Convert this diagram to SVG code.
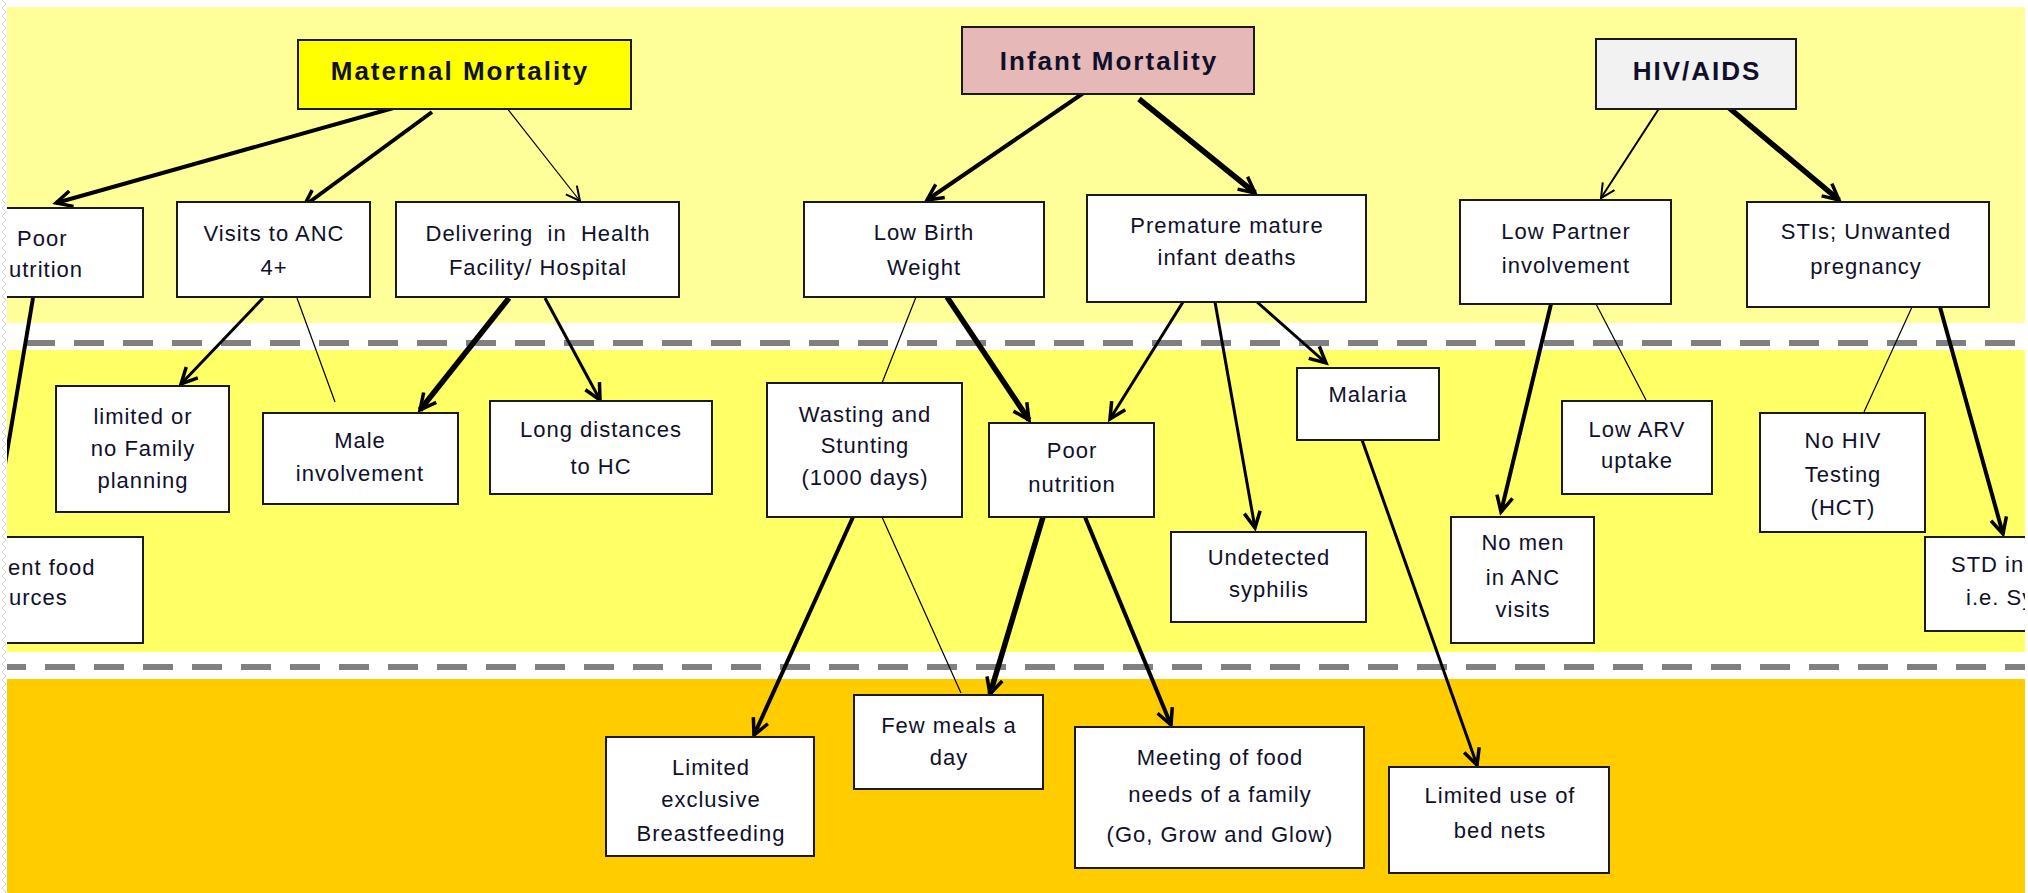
<svg xmlns="http://www.w3.org/2000/svg" width="2028" height="893" viewBox="0 0 2028 893">
  <defs>
    <style>
      .box{fill:#ffffff;stroke:#1a1a1a;stroke-width:2}
      .t{font-family:"Liberation Sans",Arial,sans-serif;font-size:22px;letter-spacing:1px;fill:#10102a;text-anchor:middle}
      .ts{text-anchor:start}
      .h{font-family:"Liberation Sans",Arial,sans-serif;font-size:26px;font-weight:bold;letter-spacing:2px;fill:#10102a;text-anchor:middle}
      .c{fill:none;stroke:#000000;stroke-linecap:butt}
      .w1{stroke-width:1.2}
      .w2{stroke-width:2}
      .w3{stroke-width:3}
      .w4{stroke-width:4}
      .w5{stroke-width:5.5}
      .sep{fill:none;stroke:#808080;stroke-width:6;stroke-dasharray:30 19}
    </style>
    <pattern id="edge" width="8" height="8" patternUnits="userSpaceOnUse">
      <path d="M2,0 L6,4 L2,8" fill="none" stroke="#cfcfcf" stroke-width="1"/>
    </pattern>
    <clipPath id="area">
      <rect x="7" y="7" width="2018" height="886"/>
    </clipPath>
    <marker id="ah" viewBox="-20 -12 24 24" refX="0" refY="0" markerWidth="24" markerHeight="24" markerUnits="userSpaceOnUse" orient="auto" overflow="visible">
      <path d="M-16,-8 L0,0 L-16,8" fill="none" stroke="#000" stroke-width="3.5"/>
    </marker>
    <marker id="ahs" viewBox="-20 -12 24 24" refX="0" refY="0" markerWidth="24" markerHeight="24" markerUnits="userSpaceOnUse" orient="auto" overflow="visible">
      <path d="M-14,-7 L0,0 L-14,7" fill="none" stroke="#000" stroke-width="2"/>
    </marker>
  </defs>

  <!-- page background and torn left edge -->
  <rect x="0" y="0" width="2028" height="893" fill="#ffffff"/>
  <rect x="0" y="0" width="8" height="893" fill="url(#edge)"/>

  <g clip-path="url(#area)">
    <!-- three level bands -->
    <g id="bands">
      <rect x="7" y="7" width="2018" height="316" fill="#FFFF99"/>
      <rect x="7" y="350" width="2018" height="302" fill="#FFFF66"/>
      <rect x="7" y="679" width="2018" height="214" fill="#FFCC00"/>
      <line class="sep" x1="25" y1="343" x2="2025" y2="343"/>
      <line class="sep" x1="-4" y1="667" x2="2025" y2="667"/>
    </g>

    <!-- connectors -->
    <g id="connectors">
      <!-- maternal mortality -->
      <line class="c w4" x1="397" y1="107" x2="56" y2="203" marker-end="url(#ah)"/>
      <line class="c w4" x1="432" y1="112" x2="304" y2="206" marker-end="url(#ah)"/>
      <line class="c w1" x1="506" y1="107" x2="580" y2="201" marker-end="url(#ahs)"/>
      <line class="c w4" x1="33" y1="298" x2="4" y2="470"/>
      <line class="c w3" x1="263" y1="298" x2="181" y2="384" marker-end="url(#ah)"/>
      <line class="c w1" x1="297" y1="298" x2="335" y2="402"/>
      <line class="c w5" x1="509" y1="298" x2="420" y2="410" marker-end="url(#ah)"/>
      <line class="c w3" x1="545" y1="298" x2="600" y2="400" marker-end="url(#ah)"/>
      <!-- infant mortality -->
      <line class="c w4" x1="1085" y1="92" x2="927" y2="200" marker-end="url(#ah)"/>
      <line class="c w5" x1="1139" y1="99" x2="1255" y2="193" marker-end="url(#ah)"/>
      <line class="c w1" x1="916" y1="297" x2="882" y2="383"/>
      <line class="c w5" x1="947" y1="297" x2="1029" y2="420" marker-end="url(#ah)"/>
      <line class="c w3" x1="1183" y1="302" x2="1110" y2="419" marker-end="url(#ah)"/>
      <line class="c w3" x1="1215" y1="302" x2="1255" y2="528" marker-end="url(#ah)"/>
      <line class="c w3" x1="1257" y1="302" x2="1326" y2="363" marker-end="url(#ah)"/>
      <line class="c w4" x1="853" y1="517" x2="754" y2="735" marker-end="url(#ah)"/>
      <line class="c w1" x1="882" y1="517" x2="961" y2="693"/>
      <line class="c w5" x1="1043" y1="517" x2="990" y2="694" marker-end="url(#ah)"/>
      <line class="c w4" x1="1085" y1="517" x2="1171" y2="725" marker-end="url(#ah)"/>
      <line class="c w3" x1="1361" y1="437" x2="1477" y2="765" marker-end="url(#ah)"/>
      <!-- HIV/AIDS -->
      <line class="c w2" x1="1660" y1="107" x2="1601" y2="198" marker-end="url(#ahs)"/>
      <line class="c w5" x1="1728" y1="107" x2="1839" y2="200" marker-end="url(#ah)"/>
      <line class="c w4" x1="1551" y1="304" x2="1501" y2="512" marker-end="url(#ah)"/>
      <line class="c w1" x1="1596" y1="304" x2="1646" y2="400"/>
      <line class="c w1" x1="1912" y1="307" x2="1864" y2="412"/>
      <line class="c w4" x1="1940" y1="307" x2="2003" y2="534" marker-end="url(#ah)"/>
    </g>

    <!-- top level -->
    <g id="n-maternal">
      <rect x="298" y="40" width="333" height="69" fill="#FFFF00" stroke="#1a1a1a" stroke-width="2"/>
      <text class="h" x="460" y="80">Maternal Mortality</text>
    </g>
    <g id="n-infant">
      <rect x="962" y="27" width="292" height="67" fill="#E6B9B8" stroke="#1a1a1a" stroke-width="2"/>
      <text class="h" x="1109" y="70">Infant Mortality</text>
    </g>
    <g id="n-hiv">
      <rect x="1596" y="39" width="200" height="70" fill="#F2F2F2" stroke="#1a1a1a" stroke-width="2"/>
      <text class="h" x="1697" y="80">HIV/AIDS</text>
    </g>

    <!-- second level -->
    <g id="n-poor-nutrition-m">
      <rect class="box" x="-51" y="208" width="194" height="89"/>
      <text class="t ts" x="17" y="246">Poor</text>
      <text class="t ts" x="9" y="277">utrition</text>
    </g>
    <g id="n-anc">
      <rect class="box" x="177" y="202" width="193" height="95"/>
      <text class="t" x="274" y="241">Visits to ANC</text>
      <text class="t" x="274" y="275">4+</text>
    </g>
    <g id="n-delivering">
      <rect class="box" x="396" y="202" width="283" height="95"/>
      <text class="t" x="538" y="241" xml:space="preserve">Delivering  in  Health</text>
      <text class="t" x="538" y="275">Facility/ Hospital</text>
    </g>
    <g id="n-lbw">
      <rect class="box" x="804" y="202" width="240" height="95"/>
      <text class="t" x="924" y="240">Low Birth</text>
      <text class="t" x="924" y="275">Weight</text>
    </g>
    <g id="n-premature">
      <rect class="box" x="1087" y="195" width="279" height="107"/>
      <text class="t" x="1227" y="233">Premature mature</text>
      <text class="t" x="1227" y="265">infant deaths</text>
    </g>
    <g id="n-partner">
      <rect class="box" x="1460" y="200" width="211" height="104"/>
      <text class="t" x="1566" y="239">Low Partner</text>
      <text class="t" x="1566" y="273">involvement</text>
    </g>
    <g id="n-stis">
      <rect class="box" x="1747" y="202" width="242" height="105"/>
      <text class="t" x="1866" y="239">STIs; Unwanted</text>
      <text class="t" x="1866" y="274">pregnancy</text>
    </g>

    <!-- third level -->
    <g id="n-family-planning">
      <rect class="box" x="56" y="386" width="173" height="126"/>
      <text class="t" x="143" y="424">limited or</text>
      <text class="t" x="143" y="456">no Family</text>
      <text class="t" x="143" y="488">planning</text>
    </g>
    <g id="n-male">
      <rect class="box" x="263" y="413" width="195" height="91"/>
      <text class="t" x="360" y="448">Male</text>
      <text class="t" x="360" y="481">involvement</text>
    </g>
    <g id="n-distance">
      <rect class="box" x="490" y="401" width="222" height="93"/>
      <text class="t" x="601" y="437">Long distances</text>
      <text class="t" x="601" y="474">to HC</text>
    </g>
    <g id="n-food-sources">
      <rect class="box" x="-40" y="537" width="183" height="106"/>
      <text class="t ts" x="8" y="575">ent food</text>
      <text class="t ts" x="9" y="605">urces</text>
    </g>
    <g id="n-wasting">
      <rect class="box" x="767" y="383" width="195" height="134"/>
      <text class="t" x="865" y="422">Wasting and</text>
      <text class="t" x="865" y="453">Stunting</text>
      <text class="t" x="865" y="485">(1000 days)</text>
    </g>
    <g id="n-poor-nutrition-i">
      <rect class="box" x="989" y="423" width="165" height="94"/>
      <text class="t" x="1072" y="458">Poor</text>
      <text class="t" x="1072" y="492">nutrition</text>
    </g>
    <g id="n-malaria">
      <rect class="box" x="1297" y="368" width="142" height="72"/>
      <text class="t" x="1368" y="402">Malaria</text>
    </g>
    <g id="n-syphilis">
      <rect class="box" x="1171" y="532" width="195" height="90"/>
      <text class="t" x="1269" y="565">Undetected</text>
      <text class="t" x="1269" y="597">syphilis</text>
    </g>
    <g id="n-arv">
      <rect class="box" x="1562" y="401" width="150" height="93"/>
      <text class="t" x="1637" y="437">Low ARV</text>
      <text class="t" x="1637" y="468">uptake</text>
    </g>
    <g id="n-no-men">
      <rect class="box" x="1451" y="517" width="143" height="126"/>
      <text class="t" x="1523" y="550">No men</text>
      <text class="t" x="1523" y="585">in ANC</text>
      <text class="t" x="1523" y="617">visits</text>
    </g>
    <g id="n-hct">
      <rect class="box" x="1760" y="413" width="165" height="119"/>
      <text class="t" x="1843" y="448">No HIV</text>
      <text class="t" x="1843" y="482">Testing</text>
      <text class="t" x="1843" y="515">(HCT)</text>
    </g>
    <g id="n-std">
      <rect class="box" x="1925" y="537" width="150" height="94"/>
      <text class="t ts" x="1951" y="572">STD in</text>
      <text class="t ts" x="1966" y="605">i.e. Sy</text>
    </g>

    <!-- fourth level -->
    <g id="n-breastfeeding">
      <rect class="box" x="606" y="737" width="208" height="119"/>
      <text class="t" x="711" y="775">Limited</text>
      <text class="t" x="711" y="807">exclusive</text>
      <text class="t" x="711" y="841">Breastfeeding</text>
    </g>
    <g id="n-meals">
      <rect class="box" x="854" y="695" width="189" height="94"/>
      <text class="t" x="949" y="733">Few meals a</text>
      <text class="t" x="949" y="765">day</text>
    </g>
    <g id="n-food-needs">
      <rect class="box" x="1075" y="727" width="289" height="141"/>
      <text class="t" x="1220" y="765">Meeting of food</text>
      <text class="t" x="1220" y="802">needs of a family</text>
      <text class="t" x="1220" y="842">(Go, Grow and Glow)</text>
    </g>
    <g id="n-bed-nets">
      <rect class="box" x="1389" y="767" width="220" height="106"/>
      <text class="t" x="1500" y="803">Limited use of</text>
      <text class="t" x="1500" y="838">bed nets</text>
    </g>
  </g>
</svg>
